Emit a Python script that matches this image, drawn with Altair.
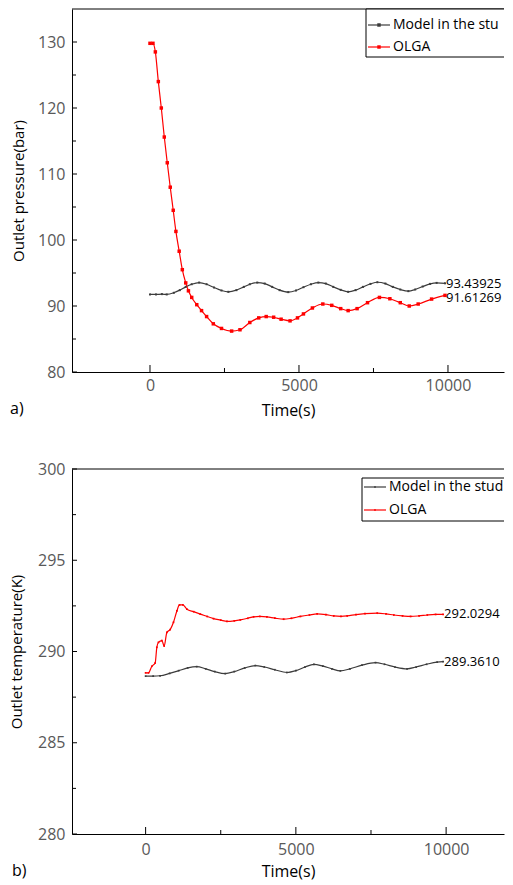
import altair as alt
import pandas as pd

FONT = "Open Sans"
SERIES = ["Model in the study", "OLGA"]
COLORS = ["#3c3c3c", "#ff0000"]
ZW = "\u200b"

# ---------------- (a) outlet pressure ----------------
t_p_model = [0, 200, 400, 560, 800, 1000, 1200, 1400, 1650, 1900, 2150, 2400, 2630, 2900,
             3150, 3350, 3600, 3850, 4100, 4350, 4640, 4900, 5150, 5400, 5650, 5900, 6150,
             6400, 6650, 6900, 7150, 7400, 7630, 7900, 8150, 8400, 8670, 8900, 9150, 9400,
             9620, 9900]
p_model = [91.75, 91.75, 91.8, 91.75, 92.0, 92.4, 92.9, 93.3, 93.55, 93.3, 92.8, 92.35, 92.15,
           92.4, 92.9, 93.3, 93.55, 93.4, 92.9, 92.4, 92.1, 92.35, 92.85, 93.3, 93.55, 93.4,
           92.9, 92.45, 92.15, 92.4, 92.9, 93.35, 93.6, 93.4, 92.9, 92.5, 92.25, 92.5, 92.95,
           93.35, 93.5, 93.44]

t_p_olga = [0, 100, 180, 280, 380, 480, 580, 680, 780, 870, 980, 1085, 1200, 1290, 1400, 1570,
            1730, 1900, 2125, 2400, 2740, 3020, 3350, 3650, 3900, 4150, 4400, 4700, 4950, 5150,
            5450, 5800, 6100, 6400, 6650, 6950, 7300, 7700, 8050, 8400, 8700, 9000, 9450, 9900]
p_olga = [129.8, 129.8, 128.5, 124.0, 120.0, 115.6, 111.7, 108.0, 104.5, 101.3, 98.3, 95.5, 93.5,
          92.3, 91.3, 90.2, 89.3, 88.4, 87.3, 86.6, 86.2, 86.4, 87.5, 88.2, 88.4, 88.3, 88.0,
          87.75, 88.2, 88.8, 89.7, 90.3, 90.1, 89.6, 89.3, 89.6, 90.5, 91.3, 91.1, 90.5, 90.0,
          90.3, 91.05, 91.61]
p_end_labels = ["93.43925", "91.61269"]          # model, OLGA

# ---------------- (b) outlet temperature ----------------
t_T_model = [0, 250, 480, 800, 1100, 1400, 1700, 2000, 2300, 2650, 2950, 3300, 3650, 3950, 4300,
             4700, 5000, 5300, 5600, 5900, 6200, 6480, 6800, 7200, 7650, 7950, 8300, 8700, 9000,
             9350, 9700, 9900]
T_model = [288.65, 288.65, 288.67, 288.8, 288.95, 289.1, 289.17, 289.05, 288.9, 288.79, 288.9,
           289.1, 289.23, 289.15, 289.0, 288.85, 288.95, 289.15, 289.3, 289.2, 289.05, 288.94,
           289.05, 289.25, 289.39, 289.3, 289.15, 289.05, 289.15, 289.3, 289.42, 289.44]

t_T_olga = [0, 95, 207, 317, 373, 427, 540, 617, 707, 817, 927, 1040, 1127, 1240, 1373, 1600,
            1817, 2050, 2260, 2500, 2707, 2950, 3150, 3400, 3593, 3800, 4037, 4300, 4593, 4850,
            5150, 5450, 5707, 6000, 6260, 6500, 6707, 7000, 7300, 7707, 8000, 8260, 8550, 8817,
            9100, 9373, 9650, 9900]
T_olga = [288.83, 288.83, 289.19, 289.37, 290.23, 290.5, 290.6, 290.3, 291.05, 291.2, 291.6,
          292.22, 292.55, 292.55, 292.32, 292.18, 292.05, 291.92, 291.8, 291.72, 291.65, 291.68,
          291.73, 291.82, 291.9, 291.92, 291.9, 291.83, 291.77, 291.82, 291.92, 292.0, 292.06,
          292.02, 291.95, 291.93, 291.95, 292.02, 292.07, 292.1, 292.06, 292.0, 291.95, 291.92,
          291.95, 292.0, 292.03, 292.03]
T_end_labels = ["289.36101", "292.02949"]        # model, OLGA

x_major = [0, 5000, 10000]
x_minor = [2500, 7500]
p_major = [80, 90, 100, 110, 120, 130]
p_minor = [85, 95, 105, 115, 125]
T_major = [280, 285, 290, 295, 300]
T_minor = [282.5, 287.5, 292.5, 297.5]


def legend_layers(w, lx, ly0, ly1, rows_y, sizes):
    out = []
    box = pd.DataFrame({"k": [0]})
    out.append(alt.Chart(box).mark_rect(fill="white").encode(
        x=alt.value(lx), x2=alt.value(w), y=alt.value(ly0), y2=alt.value(ly1)))
    out.append(alt.Chart(box).mark_rule(color="black").encode(
        x=alt.value(lx), y=alt.value(ly0), y2=alt.value(ly1)))
    out.append(alt.Chart(box).mark_rule(color="black").encode(
        x=alt.value(lx), x2=alt.value(w), y=alt.value(ly1)))
    out.append(alt.Chart(box).mark_rule(color="black").encode(
        x=alt.value(lx), x2=alt.value(w), y=alt.value(ly0)))
    for name, col, ry, sz in zip(SERIES, COLORS, rows_y, sizes):
        d = pd.DataFrame({"series": [name]})
        out.append(alt.Chart(d).mark_rule(color=col, strokeWidth=1.2).encode(
            x=alt.value(lx + 2), x2=alt.value(lx + 24), y=alt.value(ry)))
        out.append(alt.Chart(d).mark_point(filled=True, shape="square", color=col,
                                           opacity=1, size=sz).encode(
            x=alt.value(lx + 13), y=alt.value(ry)))
        out.append(alt.Chart(d).mark_text(align="left", baseline="middle", font=FONT,
                                          fontSize=14, color="black", limit=w - lx - 27,
                                          ellipsis=ZW).encode(
            text="series:N", x=alt.value(lx + 27), y=alt.value(ry)))
    return out


def panel(t_model, v_model, t_olga, v_olga, end_labels, xdom, ydom, w, h,
          ytitle, ymajor, yminor, tag, tag_x, tag_y, ytitle_x, xlab_pad, xtitle_pad,
          leg, point_sizes, end_dy):
    df = pd.concat([
        pd.DataFrame({"t": t_model, "v": v_model, "series": SERIES[0]}),
        pd.DataFrame({"t": t_olga, "v": v_olga, "series": SERIES[1]}),
    ])
    xs = alt.Scale(domain=xdom, nice=False, zero=False)
    ys = alt.Scale(domain=ydom, nice=False, zero=False)
    cs = alt.Scale(domain=SERIES, range=COLORS)
    xaxis = alt.Axis(values=x_major, format="d", ticks=False, grid=False, labelFont=FONT,
                     labelFontSize=16, labelColor="#595959", labelPadding=xlab_pad,
                     domainColor="black", title="Time(s)", titleFont=FONT, titleFontSize=16,
                     titleFontWeight="normal", titleColor="black", titlePadding=xtitle_pad)
    yaxis = alt.Axis(values=ymajor, ticks=False, grid=False, labelFont=FONT, labelFontSize=16,
                     labelColor="#595959", labelPadding=7, domainColor="black", title=ytitle,
                     titleFont=FONT, titleFontSize=15, titleFontWeight="normal",
                     titleColor="black", titleX=ytitle_x, titleBaseline="middle")
    lines = alt.Chart(df).mark_line(interpolate="monotone", strokeWidth=1.2).encode(
        x=alt.X("t:Q", scale=xs, axis=xaxis),
        y=alt.Y("v:Q", scale=ys, axis=yaxis),
        color=alt.Color("series:N", scale=cs, legend=None),
    )
    pts = alt.Chart(df).mark_point(filled=True, shape="square", opacity=1).encode(
        x=alt.X("t:Q", scale=xs),
        y=alt.Y("v:Q", scale=ys),
        color=alt.Color("series:N", scale=cs, legend=None),
        size=alt.Size("series:N", scale=alt.Scale(domain=SERIES, range=point_sizes), legend=None),
    )
    x_end = (t_model[-1] - xdom[0]) / (xdom[1] - xdom[0]) * w
    end_layers = []
    for tt, vv, lab, dy in zip([t_model[-1], t_olga[-1]], [v_model[-1], v_olga[-1]],
                               end_labels, end_dy):
        end_layers.append(alt.Chart(pd.DataFrame({"t": [tt], "v": [vv], "lab": [lab]}))
                          .mark_text(align="left", baseline="middle", dx=1, dy=dy,
                                     font=FONT, fontSize=13, color="black",
                                     limit=w - x_end - 1, ellipsis=ZW)
                          .encode(x=alt.X("t:Q", scale=xs), y=alt.Y("v:Q", scale=ys),
                                  text="lab:N"))
    ymaj = alt.Chart(pd.DataFrame({"v": ymajor})).mark_rule(color="black").encode(
        y=alt.Y("v:Q", scale=ys), x=alt.value(0), x2=alt.value(5))
    ymin = alt.Chart(pd.DataFrame({"v": yminor})).mark_rule(color="black").encode(
        y=alt.Y("v:Q", scale=ys), x=alt.value(0), x2=alt.value(4))
    xmaj = alt.Chart(pd.DataFrame({"t": x_major})).mark_rule(color="black").encode(
        x=alt.X("t:Q", scale=xs), y=alt.value(h), y2=alt.value(h - 7))
    xmin = alt.Chart(pd.DataFrame({"t": x_minor})).mark_rule(color="black").encode(
        x=alt.X("t:Q", scale=xs), y=alt.value(h), y2=alt.value(h - 4))
    frame_top = alt.Chart(pd.DataFrame({"k": [0]})).mark_rule(color="black").encode(
        x=alt.value(0), x2=alt.value(w), y=alt.value(0))
    tagc = alt.Chart(pd.DataFrame({"lab": [tag]})).mark_text(
        align="left", baseline="middle", font=FONT, fontSize=16, color="black").encode(
        text="lab:N", x=alt.value(tag_x), y=alt.value(tag_y))
    layers = [ymaj, ymin, xmaj, xmin, frame_top, lines, pts] + end_layers + [tagc]
    layers += legend_layers(w, *leg)
    return alt.layer(*layers).properties(width=w, height=h)


W = 432
top = panel(t_p_model, p_model, t_p_olga, p_olga, p_end_labels,
            [-2617, 11880], [80, 135], W, 363, "Outlet pressure(bar)",
            p_major, p_minor, "a)", -62, 400, -54, 5, 9,
            (294, 0, 48, [16, 38], [12, 12]), [4, 12], [1, 3])
bottom = panel(t_T_model, T_model, t_T_olga, T_olga, T_end_labels,
               [-2450, 11926], [280, 300], W, 365, "Outlet temperature(K)",
               T_major, T_minor, "b)", -60, 402, -56, 7, 6,
               (290, 9, 52, [18, 41], [3, 3]), [3, 3], [0, 0])

chart = alt.vconcat(top, bottom, spacing=43).resolve_scale(
    color="independent", x="independent", y="independent", size="independent"
).configure(padding={"left": 1, "top": 0, "right": 0, "bottom": 2}).configure_view(strokeWidth=0)

chart.save("out.html", embed_options={"renderer": "svg", "actions": False})
